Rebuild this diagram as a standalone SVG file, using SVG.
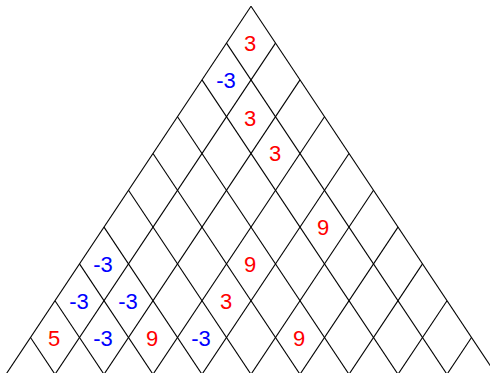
<svg xmlns="http://www.w3.org/2000/svg" width="490" height="373" viewBox="0 0 490 373">
<style>
.g line{stroke:#000;stroke-width:1.1;fill:none}
text{font-family:"Liberation Sans",Arial,sans-serif;font-size:22px;text-anchor:middle}
.r{fill:#ff0000}
.b{fill:#0000ff}
</style>
<rect width="490" height="373" fill="#fff"/>
<g id="grid" class="g">
<line x1="251" y1="6.3" x2="6" y2="374.3"/>
<line x1="275.5" y1="43.1" x2="55" y2="374.3"/>
<line x1="300" y1="79.9" x2="104" y2="374.3"/>
<line x1="324.5" y1="116.7" x2="153" y2="374.3"/>
<line x1="349" y1="153.5" x2="202" y2="374.3"/>
<line x1="373.5" y1="190.3" x2="251" y2="374.3"/>
<line x1="398" y1="227.1" x2="300" y2="374.3"/>
<line x1="422.5" y1="263.9" x2="349" y2="374.3"/>
<line x1="447" y1="300.7" x2="398" y2="374.3"/>
<line x1="471.5" y1="337.5" x2="447" y2="374.3"/>
<line x1="251" y1="6.3" x2="496" y2="374.3"/>
<line x1="226.5" y1="43.1" x2="447" y2="374.3"/>
<line x1="202" y1="79.9" x2="398" y2="374.3"/>
<line x1="177.5" y1="116.7" x2="349" y2="374.3"/>
<line x1="153" y1="153.5" x2="300" y2="374.3"/>
<line x1="128.5" y1="190.3" x2="251" y2="374.3"/>
<line x1="104" y1="227.1" x2="202" y2="374.3"/>
<line x1="79.5" y1="263.9" x2="153" y2="374.3"/>
<line x1="55" y1="300.7" x2="104" y2="374.3"/>
<line x1="30.5" y1="337.5" x2="55" y2="374.3"/>
</g>
<g id="labels">
<text class="r" x="250" y="51">3</text>
<text class="b" x="226" y="88">-3</text>
<text class="r" x="250" y="126">3</text>
<text class="r" x="275" y="161">3</text>
<text class="r" x="323" y="235">9</text>
<text class="r" x="250" y="272">9</text>
<text class="b" x="103" y="272">-3</text>
<text class="b" x="79" y="309">-3</text>
<text class="b" x="128" y="309">-3</text>
<text class="r" x="226" y="309">3</text>
<text class="r" x="54" y="346">5</text>
<text class="b" x="103" y="346">-3</text>
<text class="r" x="152" y="346">9</text>
<text class="b" x="201" y="346">-3</text>
<text class="r" x="299" y="346">9</text>
</g>
</svg>
